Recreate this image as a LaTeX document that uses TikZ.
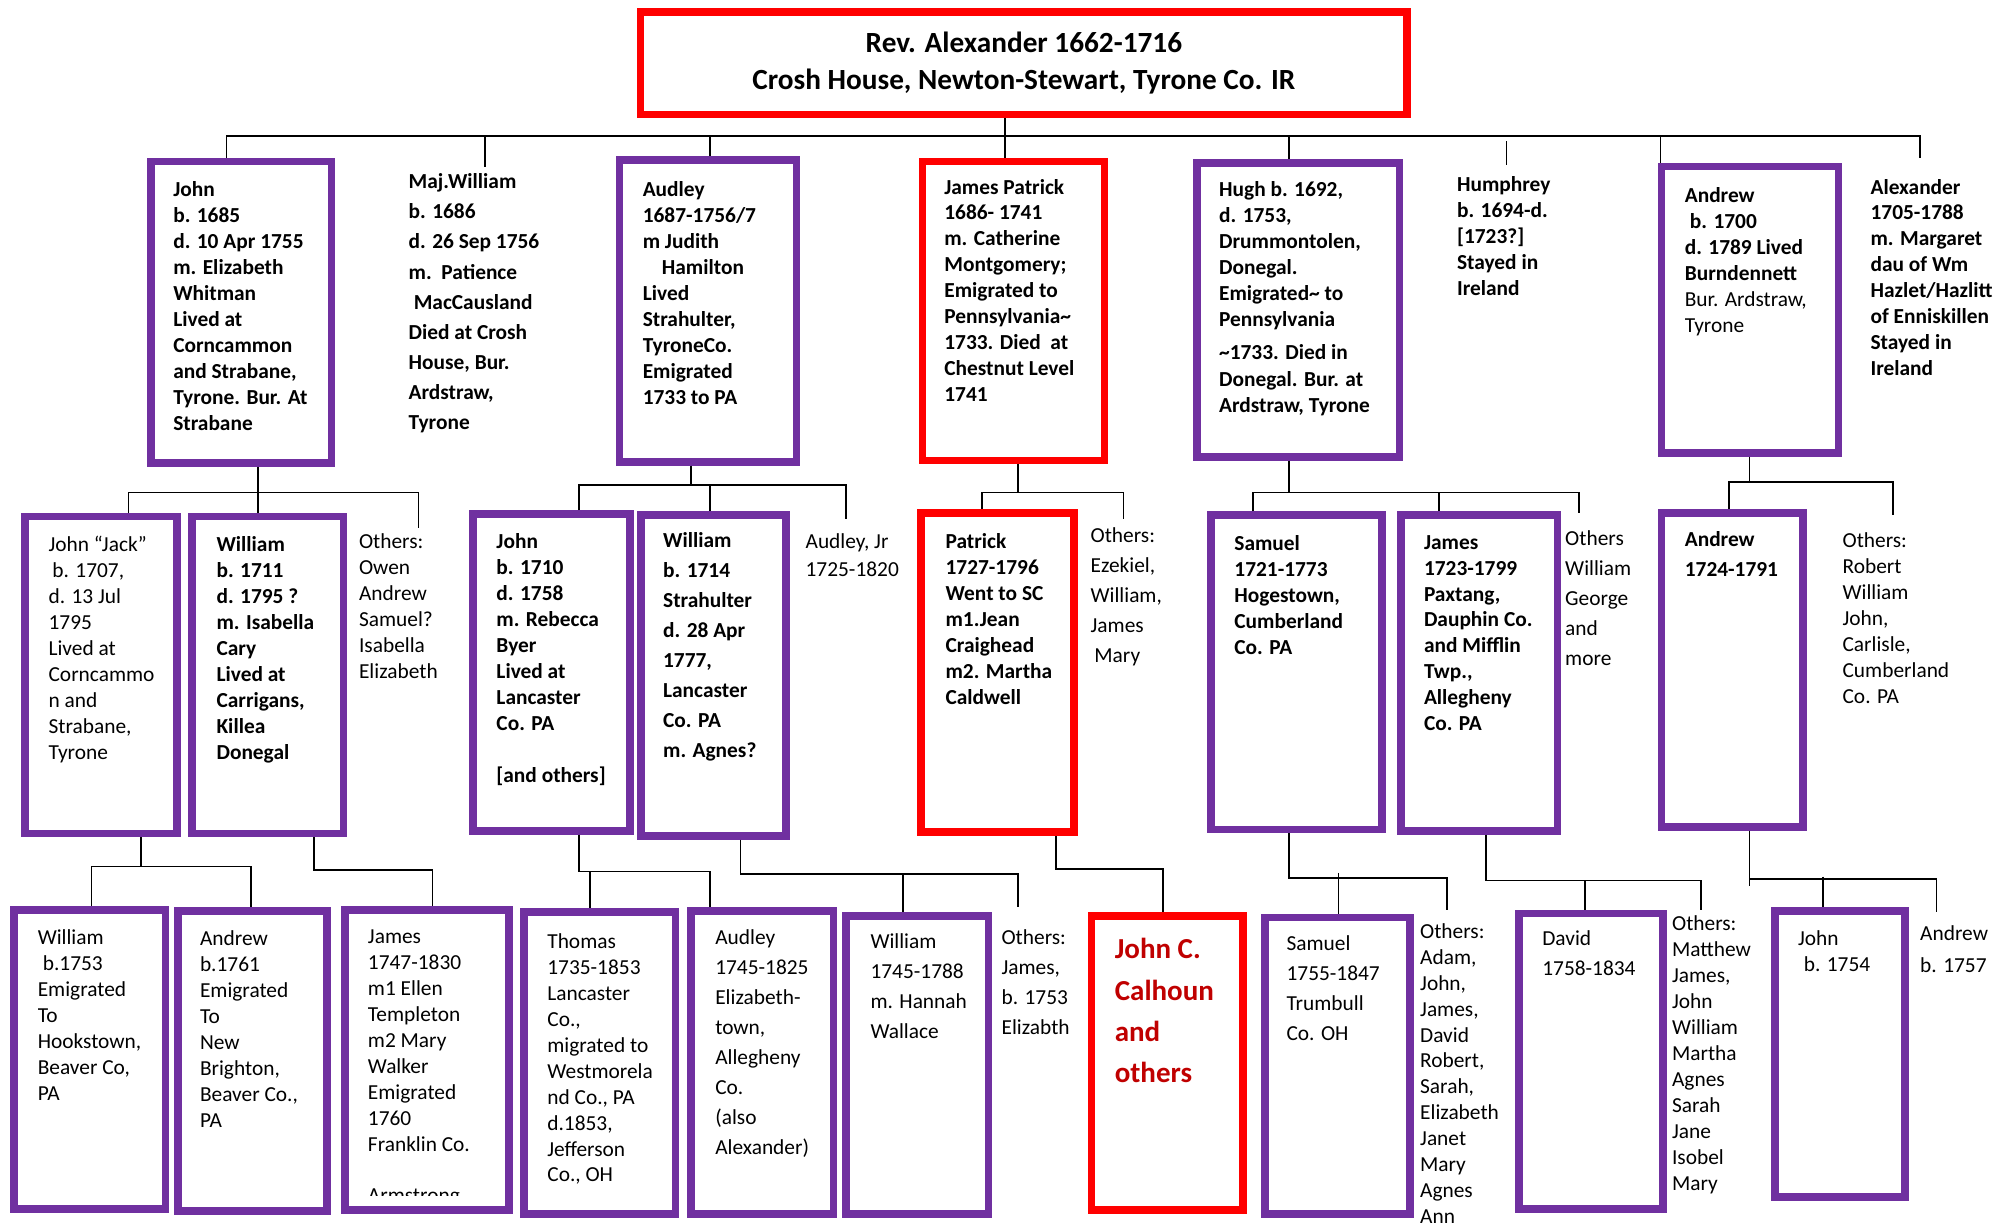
\documentclass[tikz,border=0pt]{standalone}
\usepackage{fontspec}
\setmainfont{Carlito}
\definecolor{kinpurple}{HTML}{7030A0}
\definecolor{kinred}{HTML}{FF0000}
\definecolor{calred}{HTML}{C00000}
\tikzset{pbox/.style = {draw=kinpurple, line width=6pt, rectangle, inner sep=0pt}}
\tikzset{rbox/.style = {draw=kinred, line width=6pt, rectangle, inner sep=0pt}}
\tikzset{link/.style = {line width=1.4pt}}
\tikzset{txt/.style = {anchor=north west, inner sep=0pt, align=left, yshift=-3.5pt,
                       font=\fontsize{16.8}{20.4}\selectfont,
                       execute at begin node=\strut}}
\tikzset{btxt/.style = {txt, font=\fontsize{16.8}{20.4}\selectfont\bfseries}}
\tikzset{wtxt/.style = {txt, font=\fontsize{16.8}{23.6}\selectfont}}
\tikzset{wbtxt/.style = {txt, font=\fontsize{16.8}{23.6}\selectfont\bfseries}}

\begin{document}
\begin{tikzpicture}[x=1pt, y=-1pt]
      \fill[white] (0,0) rectangle (1568,963);
      \useasboundingbox (0,0) rectangle (1568,963);

      \node[rbox, minimum width=602.5pt, minimum height=80.5pt, align=center,
            font=\fontsize{23}{29}\selectfont\bfseries] (rev) at (804.75,49.75)
            {Rev. Alexander 1662-1716\\Crosh House, Newton-Stewart, Tyrone Co. IR};

      \node[pbox, minimum width=142pt, minimum height=237pt] (john) at (189.5,245.5) {};
      \node[pbox, minimum width=139pt, minimum height=237pt] (audley) at (556.5,244.5) {};
      \node[rbox, minimum width=143pt, minimum height=235pt] (jamesp) at (796.5,244.5) {};
      \node[pbox, minimum width=159pt, minimum height=231pt] (hugh) at (1020.5,243.5) {};
      \node[pbox, minimum width=139pt, minimum height=225pt] (andrew) at (1375.5,243.5) {};

      \node[pbox, minimum width=119.5pt, minimum height=249pt] (jack) at (79.25,530.5) {};
      \node[pbox, minimum width=119pt, minimum height=249pt] (will11) at (210.5,530.5) {};
      \node[pbox, minimum width=123pt, minimum height=249pt] (john10) at (433.5,528.5) {};
      \node[pbox, minimum width=114pt, minimum height=252pt] (will14) at (561,531) {};
      \node[rbox, minimum width=120pt, minimum height=251pt] (patrick) at (784,528.5) {};
      \node[pbox, minimum width=134pt, minimum height=247pt] (sam21) at (1019,528.5) {};
      \node[pbox, minimum width=123pt, minimum height=248pt] (james23) at (1162.5,529) {};
      \node[pbox, minimum width=111pt, minimum height=247pt] (andr24) at (1361.5,526.5) {};

      \node[pbox, minimum width=119pt, minimum height=235pt] (will53) at (70.5,832.5) {};
      \node[pbox, minimum width=117pt, minimum height=236pt] (andr61) at (198.5,834) {};
      \node[pbox, minimum width=129pt, minimum height=236pt] (james47) at (335.5,833) {};
      \node[pbox, minimum width=119pt, minimum height=237pt] (thomas) at (471.5,835.5) {};
      \node[pbox, minimum width=112pt, minimum height=238pt] (aud45) at (599,835) {};
      \node[pbox, minimum width=112pt, minimum height=234pt] (will45) at (721,837) {};
      \node[rbox, minimum width=119pt, minimum height=231pt] (calhoun) at (917.5,835.5) {};
      \node[pbox, minimum width=114pt, minimum height=233pt] (sam55) at (1051,837.5) {};
      \node[pbox, minimum width=113pt, minimum height=232pt] (david) at (1250.5,834) {};
      \node[pbox, minimum width=102pt, minimum height=225pt] (john54) at (1446,828.5) {};

      % first generation
      \draw[link] (790,0 |- rev.south) -- (790,107);
      \draw[link] (178,107) -- (1510,107);
      \draw[link] (178,107) -- (178,0 |- john.north);
      \draw[link] (381,107) -- (381,131);
      \draw[link] (558,107) -- (558,0 |- audley.north);
      \draw[link] (790,107) -- (790,0 |- jamesp.north);
      \draw[link] (1013,107) -- (1013,0 |- hugh.north);
      \draw[link] (1184,111) -- (1184,130);
      \draw[link] (1305,107) -- (1305,0 |- andrew.north);
      \draw[link] (1509,107) -- (1509,124);

      \draw[link] (203,0 |- john.south) -- (203,0 |- will11.north);
      \draw[link] (101,0 |- jack.north) |- (329,387) -- (329,415);
      \draw[link] (543,0 |- audley.south) -- (543,381);
      \draw[link] (455,0 |- john10.north) |- (665,381) -- (665,408);
      \draw[link] (558,381) -- (558,0 |- will14.north);
      \draw[link] (800,0 |- jamesp.south) -- (800,387);
      \draw[link] (772,0 |- patrick.north) |- (883,387) -- (883,408);
      \draw[link] (1013,0 |- hugh.south) -- (1013,387);
      \draw[link] (985,0 |- sam21.north) |- (1241,387) -- (1241,403);
      \draw[link] (1131,387) -- (1131,0 |- james23.north);
      \draw[link] (1375,0 |- andrew.south) -- (1375,379);
      \draw[link] (1359,0 |- andr24.north) |- (1488,379) -- (1488,405);

      \draw[link] (111,0 |- jack.south) -- (111,681);
      \draw[link] (72,0 |- will53.north) |- (197,681) -- (197,0 |- andr61.north);
      \draw[link] (247,0 |- will11.south) |- (340,684) -- (340,0 |- james47.north);
      \draw[link] (455,0 |- john10.south) |- (558,685) -- (558,0 |- aud45.north);
      \draw[link] (464,685) -- (464,0 |- thomas.north);
      \draw[link] (582,0 |- will14.south) |- (800,687) -- (800,713);
      \draw[link] (710,687) -- (710,0 |- will45.north);
      \draw[link] (830,0 |- patrick.south) |- (914,683) -- (914,0 |- calhoun.north);
      \draw[link] (1013,0 |- sam21.south) |- (1137,690) -- (1137,715);
      \draw[link] (1052,686) -- (1052,0 |- sam55.north);
      \draw[link] (1168,0 |- james23.south) |- (1337,692) -- (1337,715);
      \draw[link] (1246,692) -- (1246,0 |- david.north);
      \draw[link] (1375,0 |- andr24.south) -- (1375,696);
      \draw[link] (1375,691) -- (1522,691) -- (1522,717);
      \draw[link] (1433,689) -- (1433,0 |- john54.north);

      % texts
      \node[btxt] (johnT) at (136,139) {John\\b. 1685\\d. 10 Apr 1755\\m. Elizabeth\\Whitman\\Lived at\\Corncammon\\and Strabane,\\Tyrone. Bur. At\\Strabane};
      \node[wbtxt] (majw) at (321,133) {Maj.William\\b. 1686\\d. 26 Sep 1756\\m.\ \ Patience\\\hspace*{4pt}MacCausland\\Died at Crosh\\House, Bur.\\Ardstraw,\\Tyrone};
      \node[btxt] (audleyT) at (505,139) {Audley\\1687-1756/7\\m Judith\\\hspace*{15pt}Hamilton\\Lived\\Strahulter,\\TyroneCo.\\Emigrated\\1733 to PA};
      \node[btxt] (jamespT) at (742,137) {James Patrick\\1686- 1741\\m. Catherine\\Montgomery;\\Emigrated to\\Pennsylvania\textasciitilde\\1733. Died\ \ at\\Chestnut Level\\1741};
      \node[btxt] (hughT) at (958,139) {Hugh b. 1692,\\d. 1753,\\Drummontolen,\\Donegal.\\Emigrated\textasciitilde{} to\\Pennsylvania\\[5.5pt]\textasciitilde1733. Died in\\[1pt]Donegal. Bur. at\\Ardstraw, Tyrone};
      \node[btxt] (humph) at (1145,135) {Humphrey\\b. 1694-d.\\{[1723?]}\\Stayed in\\Ireland};
      \node[btxt] (andrewT) at (1324,144) {Andrew\\\hspace*{4pt}b. 1700\\d. 1789 Lived\\Burndennett\\{\mdseries Bur. Ardstraw,}\\{\mdseries Tyrone}};
      \node[btxt] (alex) at (1470,137) {Alexander\\1705-1788\\m. Margaret\\dau of Wm\\Hazlet/Hazlitt\\of Enniskillen\\Stayed in\\Ireland};

      \node[txt] (jackT) at (38,418) {John “Jack”\\\hspace*{3pt}b. 1707,\\d. 13 Jul\\1795\\Lived at\\Corncammo\\n and\\Strabane,\\Tyrone};
      \node[btxt] (will11T) at (170,418) {William\\b. 1711\\d. 1795 ?\\m. Isabella\\Cary\\Lived at\\Carrigans,\\Killea\\Donegal};
      \node[txt] (owen) at (282,416) {Others:\\Owen\\Andrew\\Samuel?\\Isabella\\Elizabeth};
      \node[btxt] (john10T) at (390,416) {John\\b. 1710\\d. 1758\\m. Rebecca\\Byer\\Lived at\\Lancaster\\Co. PA\\[20.4pt]{[and others]}};
      \node[wbtxt] (will14T) at (521,415) {William\\b. 1714\\Strahulter\\d. 28 Apr\\1777,\\Lancaster\\Co. PA\\m. Agnes?};
      \node[txt] (audjr) at (633,416) {Audley, Jr\\[1.6pt]1725-1820};
      \node[btxt] (patrickT) at (743,416) {Patrick\\1727-1796\\Went to SC\\m1.Jean\\Craighead\\m2. Martha\\Caldwell};
      \node[wtxt] (ezek) at (857,411) {Others:\\Ezekiel,\\William,\\James\\\hspace*{3pt}Mary};
      \node[btxt] (sam21T) at (970,417) {Samuel\\1721-1773\\Hogestown,\\Cumberland\\Co. PA};
      \node[btxt] (james23T) at (1119,417) {James\\1723-1799\\Paxtang,\\Dauphin Co.\\and Mifflin\\Twp.,\\Allegheny\\Co. PA};
      \node[wtxt] (george) at (1230,413) {Others\\William\\George\\and\\more};
      \node[wbtxt] (andr24T) at (1324,414) {Andrew\\1724-1791};
      \node[txt] (robert) at (1448,415) {Others:\\Robert\\William\\John,\\Carlisle,\\Cumberland\\Co. PA};

      \node[txt] (will53T) at (29.5,727) {William\\\hspace*{4pt}b.1753\\Emigrated\\To\\Hookstown,\\Beaver Co,\\PA};
      \node[txt] (andr61T) at (157,728) {Andrew\\b.1761\\Emigrated\\To\\New\\Brighton,\\Beaver Co.,\\PA};
      \begin{scope}
        \clip (271,715) rectangle (400,940);
        \node[txt] (james47T) at (289,727) {James\\1747-1830\\m1 Ellen\\Templeton\\m2 Mary\\Walker\\Emigrated\\1760\\Franklin Co.\\[20.4pt]Armstrong};
      \end{scope}
      \node[txt] (thomasT) at (430,730) {Thomas\\1735-1853\\Lancaster\\Co.,\\migrated to\\Westmorela\\nd Co., PA\\d.1853,\\Jefferson\\Co., OH};
      \node[wtxt] (aud45T) at (562,727) {Audley\\1745-1825\\Elizabeth-\\town,\\Allegheny\\Co.\\(also\\Alexander)};
      \node[wtxt] (will45T) at (684,730) {William\\1745-1788\\m. Hannah\\Wallace};
      \node[wtxt] (othj) at (787,727) {Others:\\James,\\b. 1753\\Elizabth};
      \node[txt, text=calred, font=\fontsize{22.8}{32.4}\selectfont\bfseries] (calhounT) at (876,734) {John C.\\Calhoun\\and\\others};
      \node[wtxt] (sam55T) at (1011,732) {Samuel\\1755-1847\\Trumbull\\Co. OH};
      \node[txt] (adam) at (1116,722) {Others:\\Adam,\\John,\\James,\\David\\Robert,\\Sarah,\\Elizabeth\\Janet\\Mary\\Agnes\\Ann};
      \node[wtxt] (davidT) at (1212,728) {David\\1758-1834};
      \node[txt] (matt) at (1314,716) {Others:\\Matthew\\James,\\John\\William\\Martha\\Agnes\\Sarah\\Jane\\Isobel\\Mary};
      \node[txt] (john54T) at (1413,728) {John\\\hspace*{4.5pt}b. 1754};
      \node[txt] (andr57) at (1509,724) {Andrew\\[4.6pt]b. 1757};
\end{tikzpicture}
\end{document}
